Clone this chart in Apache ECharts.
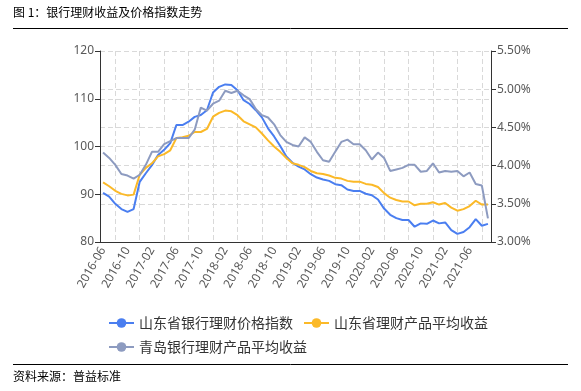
<!DOCTYPE html>
<html>
<head>
<meta charset="utf-8">
<script src="https://cdn.jsdelivr.net/npm/echarts@6/dist/echarts.min.js"></script>
<style>
html,body{margin:0;padding:0;background:#fff;}
#c{width:581px;height:391px;}
</style>
</head>
<body>
<div id="c"></div>
<script>
var titleText = '图 1：银行理财收益及价格指数走势';
var sourceText = '资料来源：普益标准';
var seriesNames = ['山东省银行理财价格指数', '山东省理财产品平均收益', '青岛银行理财产品平均收益'];
var categories = [
 '2016-06','2016-07','2016-08','2016-09','2016-10','2016-11','2016-12',
 '2017-01','2017-02','2017-03','2017-04','2017-05','2017-06','2017-07','2017-08','2017-09','2017-10','2017-11','2017-12',
 '2018-01','2018-02','2018-03','2018-04','2018-05','2018-06','2018-07','2018-08','2018-09','2018-10','2018-11','2018-12',
 '2019-01','2019-02','2019-03','2019-04','2019-05','2019-06','2019-07','2019-08','2019-09','2019-10','2019-11','2019-12',
 '2020-01','2020-02','2020-03','2020-04','2020-05','2020-06','2020-07','2020-08','2020-09','2020-10','2020-11','2020-12',
 '2021-01','2021-02','2021-03','2021-04','2021-05','2021-06','2021-07','2021-08','2021-09'
];
var priceIndex = [
 90.3, 89.5, 88.0, 86.9, 86.3, 86.9, 92.6, 94.4, 96.1, 98.2,
 99.3, 100.7, 104.5, 104.5, 105.2, 106.2, 106.6, 107.6, 111.3, 112.5,
 113.0, 112.9, 111.8, 109.7, 108.9, 107.6, 106.1, 103.8, 102.1, 100.1,
 97.9, 96.6, 95.8, 95.2, 94.2, 93.5, 93.1, 92.8, 92.1, 91.9,
 91.0, 90.7, 90.7, 90.1, 89.8, 88.9, 87.0, 85.7, 85.0, 84.6,
 84.6, 83.2, 83.9, 83.8, 84.5, 83.9, 84.1, 82.5, 81.7, 82.1,
 83.1, 84.8, 83.4, 83.8
];
var sdYield = [
 3.78, 3.73, 3.67, 3.63, 3.61, 3.62, 3.88, 3.97, 4.03, 4.12,
 4.15, 4.20, 4.36, 4.37, 4.39, 4.44, 4.44, 4.48, 4.64, 4.69,
 4.72, 4.71, 4.66, 4.58, 4.54, 4.50, 4.42, 4.33, 4.25, 4.18,
 4.10, 4.03, 4.01, 3.98, 3.93, 3.90, 3.89, 3.87, 3.84, 3.83,
 3.80, 3.79, 3.79, 3.76, 3.75, 3.72, 3.64, 3.58, 3.55, 3.53,
 3.53, 3.48, 3.50, 3.50, 3.52, 3.49, 3.51, 3.45, 3.41, 3.43,
 3.47, 3.54, 3.49, 3.49
];
var qdYield = [
 4.17, 4.10, 4.01, 3.89, 3.87, 3.83, 3.88, 4.01, 4.18, 4.18,
 4.28, 4.32, 4.36, 4.36, 4.36, 4.47, 4.76, 4.72, 4.81, 4.85,
 4.98, 4.95, 4.98, 4.92, 4.87, 4.74, 4.66, 4.63, 4.54, 4.40,
 4.31, 4.27, 4.25, 4.37, 4.31, 4.18, 4.07, 4.05, 4.18, 4.31,
 4.34, 4.28, 4.28, 4.20, 4.08, 4.17, 4.10, 3.93, 3.95, 3.97,
 4.01, 4.01, 3.92, 3.93, 4.03, 3.91, 3.93, 3.92, 3.93, 3.86,
 3.91, 3.76, 3.74, 3.31
];
var colors = ['#4a7ef0', '#fbb928', '#8d9bc0'];

// helper axis with half-band positions, used only to place vertical grid lines
var halfSteps = [];
for (var k = 0; k <= categories.length * 2; k++) halfSteps.push(String(k));

var font = '"Noto Sans", "Noto Sans CJK SC", sans-serif';
var gridLine = {show: true, lineStyle: {color: '#d9d9d9', type: [5, 3], width: 1}};
var chart = echarts.init(document.getElementById('c'), null, {renderer: 'canvas'});
chart.setOption({
  backgroundColor: '#fff',
  animation: false,
  color: colors,
  textStyle: {fontFamily: font},
  graphic: [
    {type: 'text', left: 13, top: 6, style: {text: titleText, font: '12px "Noto Sans CJK SC"', fill: '#000'}},
    {type: 'line', shape: {x1: 13, y1: 28.5, x2: 568, y2: 28.5}, style: {stroke: '#000', lineWidth: 1}},
    {type: 'line', shape: {x1: 13, y1: 364.5, x2: 568, y2: 364.5}, style: {stroke: '#000', lineWidth: 1}},
    {type: 'text', left: 13, top: 370, style: {text: sourceText, font: '12px "Noto Sans CJK SC"', fill: '#000'}}
  ],
  grid: {left: 100, right: 90, top: 51, bottom: 149, containLabel: false},
  legend: {
    left: 103, top: 311, width: 400,
    itemWidth: 25, itemHeight: 12, itemGap: 10,
    textStyle: {fontSize: 14, color: '#333', fontFamily: '"Noto Sans CJK SC"'},
    data: seriesNames
  },
  xAxis: [{
    type: 'category', data: categories, boundaryGap: true,
    axisLine: {lineStyle: {color: '#333'}},
    axisTick: {interval: 3, alignWithLabel: true, length: 5, lineStyle: {color: '#333'}},
    axisLabel: {interval: 3, rotate: 60, fontSize: 12, color: '#595959', margin: 6},
    splitLine: {show: false}
  }, {
    type: 'category', data: halfSteps, boundaryGap: false, position: 'bottom',
    axisLine: {show: false}, axisTick: {show: false}, axisLabel: {show: false},
    splitLine: {show: true, interval: function (idx) { return idx % 8 === 5; },
      lineStyle: {color: '#d9d9d9', type: [5, 3], width: 1}}
  }],
  yAxis: [{
    type: 'value', min: 80, max: 120, interval: 10, position: 'left',
    axisLine: {show: true, lineStyle: {color: '#333'}},
    axisTick: {show: true, length: 5, lineStyle: {color: '#333'}},
    axisLabel: {fontSize: 12, color: '#595959', margin: 6},
    splitLine: gridLine
  }, {
    type: 'value', min: 3, max: 5.5, interval: 0.5, position: 'right',
    axisLine: {show: true, lineStyle: {color: '#333'}},
    axisTick: {show: true, length: 5, lineStyle: {color: '#333'}},
    axisLabel: {fontSize: 12, color: '#595959', margin: 6,
      formatter: function (v) { return v.toFixed(2) + '%'; }},
    splitLine: gridLine
  }],
  series: [
    {name: seriesNames[0], type: 'line', data: priceIndex, yAxisIndex: 0, xAxisIndex: 0,
     symbol: 'circle', symbolSize: 8, showSymbol: false, lineStyle: {width: 2}},
    {name: seriesNames[1], type: 'line', data: sdYield, yAxisIndex: 1, xAxisIndex: 0,
     symbol: 'circle', symbolSize: 8, showSymbol: false, lineStyle: {width: 2}},
    {name: seriesNames[2], type: 'line', data: qdYield, yAxisIndex: 1, xAxisIndex: 0,
     symbol: 'circle', symbolSize: 8, showSymbol: false, lineStyle: {width: 2}}
  ]
});
</script>
</body>
</html>
